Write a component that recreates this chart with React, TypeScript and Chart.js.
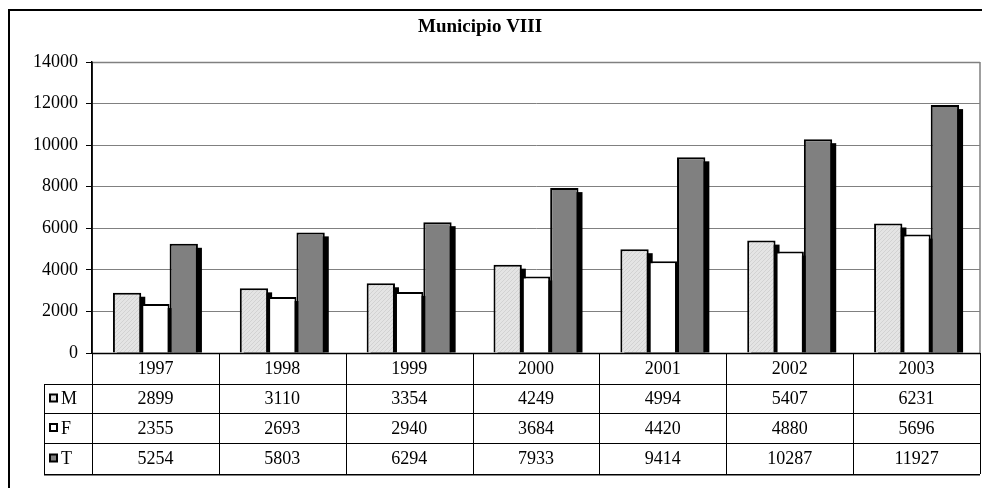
import React, { useEffect, useRef } from "react";
import { Chart, registerables } from "chart.js";

Chart.register(...registerables);

const TITLE = "Municipio VIII";
const YEARS = ["1997", "1998", "1999", "2000", "2001", "2002", "2003"];
const SERIES_NAMES = ["M", "F", "T"];
const M_VALUES = [2899, 3110, 3354, 4249, 4994, 5407, 6231];
const F_VALUES = [2355, 2693, 2940, 3684, 4420, 4880, 5696];
const T_VALUES = [5254, 5803, 6294, 7933, 9414, 10287, 11927];
const Y_MAX = 14000;
const Y_STEP = 2000;

const FONT = "'Liberation Serif', 'Times New Roman', serif";

function makeHatch(): CanvasPattern | string {
  const c = document.createElement("canvas");
  c.width = 4;
  c.height = 4;
  const ctx = c.getContext("2d");
  if (!ctx) return "#dddddd";
  ctx.fillStyle = "#e4e4e4";
  ctx.fillRect(0, 0, 4, 4);
  ctx.fillStyle = "#d2d2d2";
  for (let i = 0; i < 4; i++) ctx.fillRect(i, 3 - i, 1, 1);
  const p = ctx.createPattern(c, "repeat");
  return p || "#dddddd";
}

export default function App() {
  const ref = useRef<HTMLCanvasElement | null>(null);

  useEffect(() => {
    const canvas = ref.current;
    if (!canvas) return;
    const hatch = makeHatch();
    const fills: (CanvasPattern | string)[] = [hatch, "#ffffff", "#808080"];
    const allValues = [M_VALUES, F_VALUES, T_VALUES];

    const deco = {
      id: "deco",
      beforeDatasetsDraw(chart: any) {
        const ctx = chart.ctx;
        ctx.save();
        ctx.fillStyle = "#000";
        chart.data.datasets.forEach((_: any, di: number) => {
          const meta = chart.getDatasetMeta(di);
          meta.data.forEach((el: any) => {
            const { x, y, base, width } = el.getProps(["x", "y", "base", "width"], true);
            ctx.fillRect(x - width / 2 + 4, y + 4, width, base - y - 4);
          });
        });
        ctx.restore();
      },
      afterDraw(chart: any) {
        const ctx = chart.ctx;
        const a = chart.chartArea;
        const L = a.left, R = a.right, B = a.bottom;
        const colW = (R - L) / YEARS.length;
        const rows = [B, B + 31, B + 60, B + 90, B + 121];
        const legL = 36;
        ctx.save();
        // plot border top/right gray
        ctx.strokeStyle = "#808080";
        ctx.lineWidth = 1.5;
        ctx.beginPath();
        ctx.moveTo(L, a.top + 0.5);
        ctx.lineTo(R, a.top + 0.5);
        ctx.moveTo(R, a.top);
        ctx.lineTo(R, B);
        ctx.stroke();
        // table lines
        ctx.strokeStyle = "#000";
        ctx.lineWidth = 1;
        ctx.beginPath();
        for (let r = 1; r < rows.length; r++) {
          ctx.moveTo(legL, rows[r] + 0.5);
          ctx.lineTo(R, rows[r] + 0.5);
        }
        for (let i = 0; i <= YEARS.length; i++) {
          const x = Math.round(L + i * colW) + 0.5;
          ctx.moveTo(x, B);
          ctx.lineTo(x, rows[4]);
        }
        ctx.moveTo(legL + 0.5, rows[1]);
        ctx.lineTo(legL + 0.5, rows[4]);
        ctx.stroke();
        ctx.strokeStyle = "#808080";
        ctx.beginPath();
        ctx.moveTo(legL, rows[4] + 1.5);
        ctx.lineTo(R, rows[4] + 1.5);
        ctx.stroke();
        // axis lines
        ctx.strokeStyle = "#000";
        ctx.lineWidth = 1.5;
        ctx.beginPath();
        ctx.moveTo(L, a.top);
        ctx.lineTo(L, B);
        ctx.moveTo(L, B + 0.5);
        ctx.lineTo(R, B + 0.5);
        ctx.stroke();

        // text
        ctx.fillStyle = "#000";
        ctx.font = `18px ${FONT}`;
        ctx.textAlign = "center";
        ctx.textBaseline = "middle";
        YEARS.forEach((yr, i) => {
          const cx = L + (i + 0.5) * colW;
          ctx.fillText(yr, cx, (rows[0] + rows[1]) / 2 + 1);
          allValues.forEach((vals, s) => {
            ctx.fillText(String(vals[i]), cx, (rows[s + 1] + rows[s + 2]) / 2 + 1);
          });
        });
        // legend keys
        SERIES_NAMES.forEach((name, s) => {
          const cy = (rows[s + 1] + rows[s + 2]) / 2;
          ctx.fillStyle = fills[s] as any;
          ctx.fillRect(42, cy - 4, 7, 7);
          ctx.strokeStyle = "#000";
          ctx.lineWidth = 2;
          ctx.strokeRect(42, cy - 4, 7, 7);
          ctx.fillStyle = "#000";
          ctx.textAlign = "left";
          ctx.fillText(name, 53, cy + 1);
        });
        // title
        ctx.font = `bold 19px ${FONT}`;
        ctx.textAlign = "center";
        ctx.fillText(TITLE, 472, 19);
        // outer frame
        ctx.strokeStyle = "#000";
        ctx.lineWidth = 2;
        ctx.strokeRect(1, 2, chart.width + 20, chart.height + 20);
        ctx.restore();
      },
    };

    const chart = new Chart(canvas, {
      type: "bar",
      data: {
        labels: YEARS,
        datasets: SERIES_NAMES.map((name, s) => ({
          label: name,
          data: allValues[s],
          backgroundColor: fills[s] as any,
          borderColor: "#000",
          borderWidth: 2,
          categoryPercentage: 0.67,
          barPercentage: 1,
        })),
      },
      options: {
        responsive: false,
        animation: false,
        layout: { padding: { left: 0, top: 54, right: 2, bottom: 135 } },
        plugins: {
          legend: { display: false },
          title: { display: false },
          tooltip: { enabled: false },
        },
        scales: {
          x: { display: false },
          y: {
            min: 0,
            max: Y_MAX,
            ticks: {
              stepSize: Y_STEP,
              color: "#000",
              padding: 8,
              font: { family: FONT, size: 18 },
              callback: (v: any) => String(v),
            },
            grid: { color: "#808080", tickColor: "#000", tickLength: 6, lineWidth: 1 },
            border: { color: "#000", width: 1.5 },
            afterFit: (s: any) => {
              s.width = 84;
            },
          },
        },
      },
      plugins: [deco],
    } as any);
    return () => chart.destroy();
  }, []);

  return (
    <div style={{ position: "fixed", left: 8, top: 8, width: 974, height: 480 }}>
      <canvas ref={ref} width={974} height={480} style={{ width: 974, height: 480, display: "block" }} />
    </div>
  );
}
